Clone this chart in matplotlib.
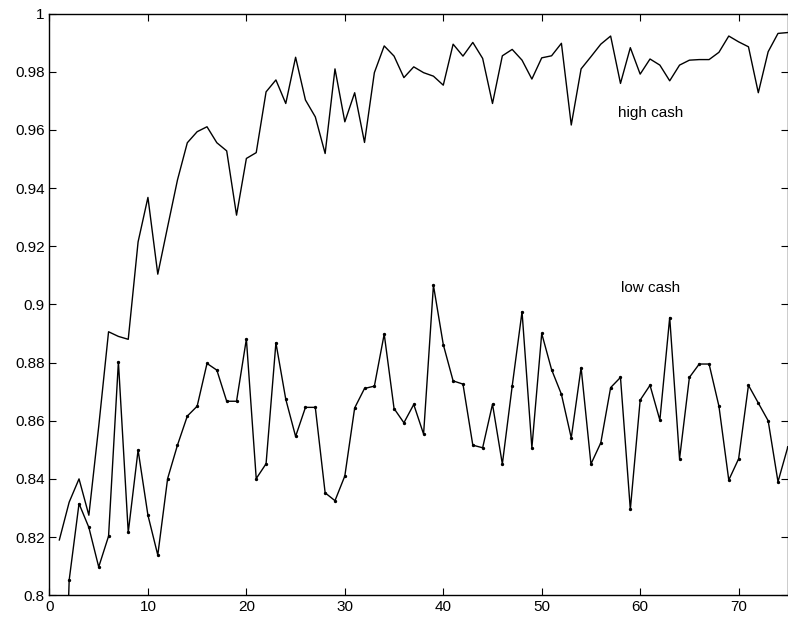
import matplotlib
matplotlib.use("Agg")
import matplotlib.pyplot as plt
import numpy as np

x_high = np.arange(1, 76)
high_cash = [0.819, 0.832, 0.840, 0.8275, 0.858, 0.8906, 0.889, 0.888, 0.9215, 0.9368,
             0.9104, 0.9267, 0.9428, 0.9556, 0.9594, 0.9611, 0.9556, 0.9528, 0.9307, 0.9502,
             0.9522, 0.9731, 0.9772, 0.9691, 0.985, 0.9703, 0.9645, 0.9519, 0.981, 0.9628,
             0.9728, 0.9557, 0.9797, 0.9889, 0.9854, 0.978, 0.9817, 0.9797, 0.9785, 0.9754,
             0.9895, 0.9854, 0.9901, 0.9846, 0.9691, 0.9855, 0.9877, 0.984, 0.9775, 0.9848,
             0.9855, 0.9898, 0.9617, 0.981, 0.9852, 0.9895, 0.9923, 0.976, 0.9883, 0.9792,
             0.9844, 0.9823, 0.9769, 0.9823, 0.984, 0.9842, 0.9842, 0.9867, 0.9923, 0.9903,
             0.9886, 0.9728, 0.9869, 0.9932, 0.9935]

x_low = np.arange(1, 76)
low_cash = [0.70, 0.8052, 0.8315, 0.8233, 0.8097, 0.8203, 0.8803, 0.8216, 0.8499, 0.8275,
            0.8138, 0.8401, 0.8516, 0.8616, 0.865, 0.8797, 0.8774, 0.8667, 0.8667, 0.8881,
            0.8401, 0.8452, 0.8868, 0.8674, 0.8546, 0.8646, 0.8646, 0.8352, 0.8325, 0.841,
            0.8644, 0.8711, 0.8719, 0.8898, 0.8642, 0.8593, 0.8656, 0.8554, 0.9066, 0.8862,
            0.8737, 0.8726, 0.8516, 0.8507, 0.8657, 0.8451, 0.8719, 0.8975, 0.8507, 0.89,
            0.8776, 0.8691, 0.8541, 0.8783, 0.8451, 0.8524, 0.8714, 0.8749, 0.8295, 0.8671,
            0.8722, 0.8602, 0.8955, 0.8469, 0.8749, 0.8795, 0.8795, 0.865, 0.8396, 0.8469,
            0.8722, 0.8661, 0.86, 0.839, 0.851]

xticks = [0, 10, 20, 30, 40, 50, 60, 70]
yticks = [0.8, 0.82, 0.84, 0.86, 0.88, 0.9, 0.92, 0.94, 0.96, 0.98, 1.0]
ytick_labels = ["0.8", "0.82", "0.84", "0.86", "0.88", "0.9", "0.92", "0.94", "0.96", "0.98", "1"]

plt.rcParams['font.family'] = ['Liberation Sans', 'DejaVu Sans']

fig = plt.figure(figsize=(7.88, 6.2), dpi=100)
ax = fig.add_axes([0.0628, 0.040, 0.937, 0.938])

ax.plot(x_high, high_cash, color="black", lw=1.0)
ax.plot(x_low, low_cash, color="black", lw=1.0, marker=".", markersize=2.8)

ax.text(61.1, 0.966, "high cash", ha="center", va="center", fontsize=11)
ax.text(61.1, 0.9056, "low cash", ha="center", va="center", fontsize=11)

ax.set_xlim(0, 75)
ax.set_ylim(0.8, 1.0)
ax.set_xticks(xticks)
ax.set_yticks(yticks)
ax.set_yticklabels(ytick_labels)
ax.tick_params(direction="in", top=True, right=True, length=5, labelsize=11)
for s in ax.spines.values():
    s.set_linewidth(1.0)

fig.savefig("out.png", dpi=100)
